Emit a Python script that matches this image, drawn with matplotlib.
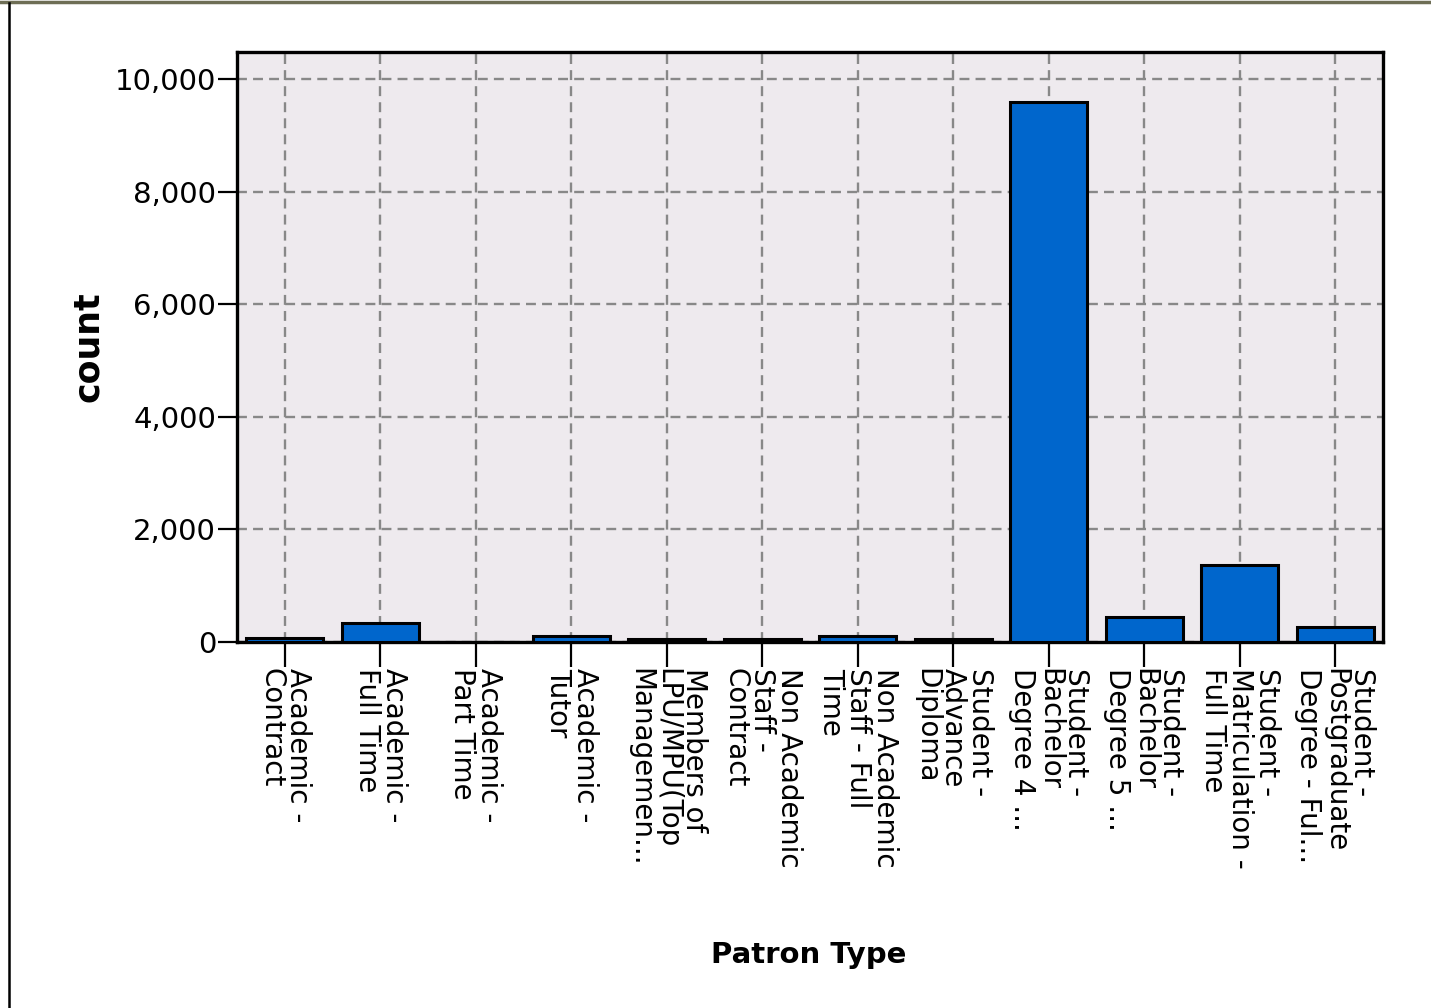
import matplotlib
matplotlib.use("Agg")
import matplotlib.pyplot as plt
from matplotlib.lines import Line2D
from matplotlib.ticker import FuncFormatter

# patron type counts
categories = [
    "Academic -\nContract",
    "Academic -\nFull Time",
    "Academic -\nPart Time",
    "Academic -\nTutor",
    "Members of\nLPU/MPU(Top\nManagemen...",
    "Non Academic\nStaff -\nContract",
    "Non Academic\nStaff - Full\nTime",
    "Student -\nAdvance\nDiploma",
    "Student -\nBachelor\nDegree 4 ...",
    "Student -\nBachelor\nDegree 5 ...",
    "Student -\nMatriculation -\nFull Time",
    "Student -\nPostgraduate\nDegree - Ful...",
]
counts = [66, 343, 2, 112, 62, 62, 105, 62, 9600, 443, 1372, 266]
yticks = [0, 2000, 4000, 6000, 8000, 10000]

fig = plt.figure(figsize=(14.31, 10.08), dpi=100)
ax = fig.add_axes([237 / 1431, 1 - 642 / 1008, (1383 - 237) / 1431, (642 - 52) / 1008])

x = list(range(len(categories)))
ax.bar(x, counts, width=0.81, color="#0066CC", edgecolor="black", linewidth=2.2, zorder=3)

ax.set_facecolor("#EEEAEE")
ax.set_xlim(-0.5, len(categories) - 0.5)
ax.set_ylim(0, 10480)
ax.set_yticks(yticks)
ax.yaxis.set_major_formatter(FuncFormatter(lambda v, p: f"{int(v):,}"))
ax.set_xticks(x)
ax.set_xticklabels(categories, rotation=270, ha="center", va="top",
                   multialignment="left", fontsize=20, linespacing=0.95)

ax.set_axisbelow(True)
ax.grid(True, color="#888888", linewidth=1.7, linestyle=(0, (4.2, 2.6)))

for s in ax.spines.values():
    s.set_linewidth(2.4)
    s.set_color("black")

ax.tick_params(axis="y", direction="out", length=14, width=1.6, pad=1, labelsize=21)
ax.tick_params(axis="x", direction="out", length=18, width=1.6, pad=1)

ax.set_ylabel("count", fontsize=25, fontweight="bold")
ax.yaxis.set_label_coords(-0.115, 0.5)
fig.text(809 / 1431, 1 - 955 / 1008, "Patron Type", fontsize=21, fontweight="bold",
         ha="center", va="center")

# window frame around the chart
fig.add_artist(Line2D([0, 1], [1 - 1.5 / 1008, 1 - 1.5 / 1008], color="#6E6E55", linewidth=2.5))
fig.add_artist(Line2D([9 / 1431, 9 / 1431], [0, 1 - 3 / 1008], color="black", linewidth=1.8))

fig.savefig("out.png", dpi=100)
